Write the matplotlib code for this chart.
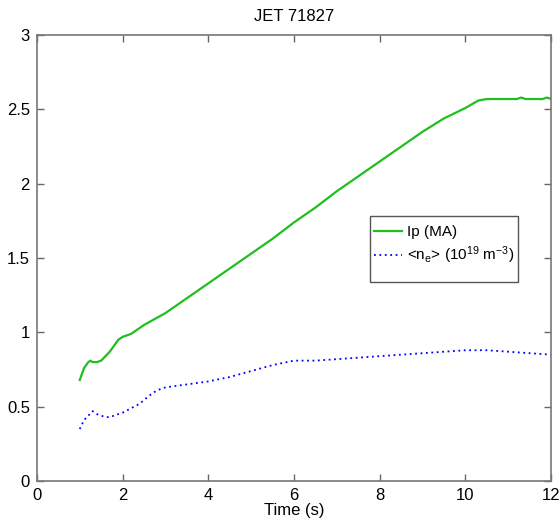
import numpy as np
import matplotlib.pyplot as plt
from matplotlib.patches import Rectangle

plt.rcParams['font.family'] = ['Liberation Sans', 'DejaVu Sans']
plt.rcParams['mathtext.default'] = 'regular'

# plasma current Ip (MA)
t_ip = [1.0, 1.05, 1.1, 1.2, 1.25, 1.3, 1.4, 1.5, 1.6, 1.7, 1.8, 1.9, 2.0, 2.1, 2.2,
        2.5, 3.0, 3.5, 4.0, 4.5, 5.0, 5.5, 6.0, 6.5, 7.0, 7.5, 8.0, 8.5, 9.0,
        9.5, 10.0, 10.3, 10.5, 11.0, 11.2, 11.3, 11.4, 11.6, 11.8, 11.9, 12.0]
ip = [0.68, 0.72, 0.76, 0.80, 0.81, 0.80, 0.80, 0.81, 0.84, 0.87, 0.91, 0.95, 0.97, 0.98, 0.99,
      1.05, 1.13, 1.23, 1.33, 1.43, 1.53, 1.63, 1.74, 1.84, 1.95, 2.05, 2.15, 2.25, 2.35,
      2.44, 2.51, 2.56, 2.57, 2.57, 2.57, 2.58, 2.57, 2.57, 2.57, 2.58, 2.57]

# line-averaged density <ne> (1e19 m^-3)
t_ne = [1.0, 1.05, 1.1, 1.2, 1.3, 1.4, 1.5, 1.6, 1.7, 1.8, 2.0, 2.2, 2.4, 2.6, 2.8, 3.0,
        3.5, 4.0, 4.5, 5.0, 5.5, 6.0, 6.5, 7.0, 7.5, 8.0, 8.5, 9.0, 9.5, 10.0,
        10.5, 11.0, 11.5, 12.0]
ne = [0.35, 0.38, 0.41, 0.44, 0.47, 0.45, 0.44, 0.43, 0.43, 0.44, 0.46, 0.49, 0.52, 0.57, 0.61, 0.63,
      0.65, 0.67, 0.70, 0.74, 0.78, 0.81, 0.81, 0.82, 0.83, 0.84, 0.85, 0.86, 0.87, 0.88,
      0.88, 0.87, 0.86, 0.85]

fig = plt.figure(figsize=(5.59, 5.24), dpi=100)
ax = fig.add_axes([0.066, 0.082, 0.920, 0.851])

ax.plot(t_ip, ip, color='#1fbf1f', lw=1.6, label='Ip (MA)')
ax.plot(t_ne, ne, color='blue', lw=1.3, ls=(0, (1, 2)), label='<n$_e$> (10$^{19}$ m$^{-3}$)')

ax.set_xlim(0, 12)
ax.set_ylim(0, 3)
ax.set_xticks(np.arange(0, 13, 2))
ax.set_yticks([0, 0.5, 1, 1.5, 2, 2.5, 3])
ax.set_yticklabels(['0', '0.5', '1', '1.5', '2', '2.5', '3'])
ax.tick_params(direction='in', top=True, right=True, length=5, width=1.0,
               color='#666666', labelsize=12, pad=5)
for s in ax.spines.values():
    s.set_linewidth(1.2)
    s.set_color('#777777')

ax.set_title('JET 71827', fontsize=12, pad=10)
ax.set_xlabel('Time (s)', fontsize=12, labelpad=0)

# matlab-style legend: box drawn separately, with empty room at the bottom
ax.add_patch(Rectangle((0.648, 0.446), 0.288, 0.148, transform=ax.transAxes,
                       facecolor='white', edgecolor='#555555', lw=1.0, zorder=4))
leg = ax.legend(loc='upper left', bbox_to_anchor=(0.656, 0.574), fontsize=11,
                frameon=False, handlelength=1.8, handletextpad=0.35,
                borderpad=0, labelspacing=0.35, borderaxespad=0)
leg.set_zorder(5)

fig.savefig('out.png', dpi=100)
